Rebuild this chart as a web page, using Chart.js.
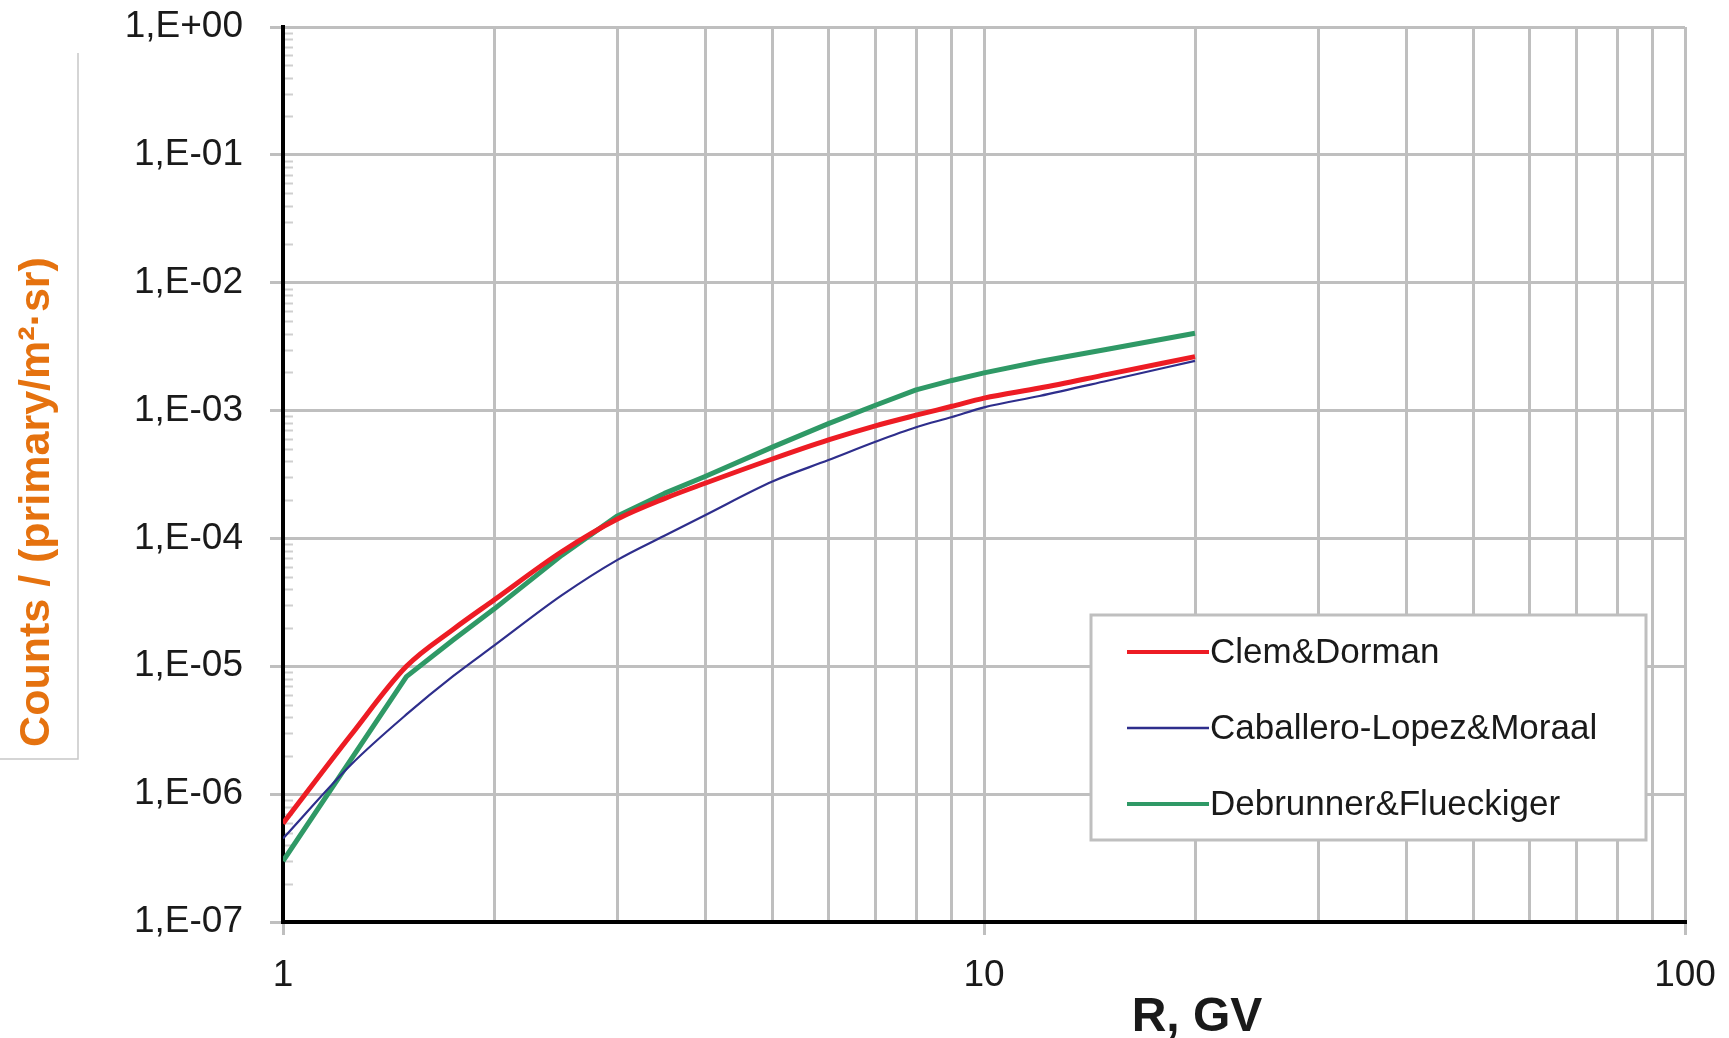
<!DOCTYPE html>
<html>
<head>
<meta charset="utf-8">
<script src="https://cdn.jsdelivr.net/npm/chart.js@4.4.1/dist/chart.umd.min.js"></script>
<style>
  html,body { margin:0; padding:0; background:#fff; }
  #wrap { width:1729px; height:1038px; }
</style>
</head>
<body>
<div id="wrap"><canvas id="chart" width="1729" height="1038"></canvas></div>
<script>
  // ── DATA ──────────────────────────────────────────────────────────────────
  const rValues      = [1, 1.25, 1.5, 1.75, 2, 2.5, 3, 3.5, 4, 5, 6, 7, 8, 9, 10, 12, 15, 20];
  const clemDorman   = [5.9e-7, 2.9e-6, 1.0e-5, 1.95e-5, 3.3e-5, 7.9e-5, 1.42e-4, 2.05e-4, 2.7e-4, 4.2e-4, 5.9e-4, 7.6e-4, 9.2e-4, 1.08e-3, 1.25e-3, 1.5e-3, 1.92e-3, 2.64e-3];
  const caballero    = [4.5e-7, 1.7e-6, 4.2e-6, 8.4e-6, 1.45e-5, 3.6e-5, 6.8e-5, 1.05e-4, 1.52e-4, 2.8e-4, 4.1e-4, 5.7e-4, 7.4e-4, 8.9e-4, 1.06e-3, 1.3e-3, 1.71e-3, 2.45e-3];
  const debrunner    = [3.0e-7, null, 8.3e-6, 1.61e-5, 2.8e-5, 7.4e-5, 1.5e-4, 2.25e-4, 3.05e-4, 5.2e-4, 7.9e-4, 1.1e-3, 1.45e-3, 1.72e-3, 1.97e-3, 2.42e-3, 3.02e-3, 4.03e-3];
  const seriesNames  = ['Clem&Dorman', 'Caballero-Lopez&Moraal', 'Debrunner&Flueckiger'];

  const yTickValues  = [1e-7, 1e-6, 1e-5, 1e-4, 1e-3, 1e-2, 1e-1, 1];
  const yTickLabels  = ['1,E-07', '1,E-06', '1,E-05', '1,E-04', '1,E-03', '1,E-02', '1,E-01', '1,E+00'];
  const xGridValues  = [1, 2, 3, 4, 5, 6, 7, 8, 9, 10, 20, 30, 40, 50, 60, 70, 80, 90, 100];
  const xTickValues  = [1, 10, 100];
  const xTickLabels  = ['1', '10', '100'];

  const xTitle = 'R, GV';
  const yTitle = 'Counts / (primary/m²·sr)';

  const COLORS = { red:'#ed1c24', blue:'#2e2e8c', green:'#2f9966', grid:'#bfbfbf', text:'#1a1a1a', orange:'#e5720f' };
  const FONT   = '"Liberation Sans", Arial, sans-serif';

  function pts(ys) { return rValues.map((r,i) => ({ x:r, y:ys[i] })); }

  // ── PLUGINS ───────────────────────────────────────────────────────────────
  const minorTicks = {
    id: 'minorTicks',
    beforeDatasetsDraw(chart) {
      const { ctx, scales:{ y }, chartArea } = chart;
      ctx.save();
      ctx.strokeStyle = '#cfcfcf';
      ctx.lineWidth = 2;
      for (let d = 0; d < yTickValues.length - 1; d++) {
        for (let k = 2; k <= 9; k++) {
          const py = Math.round(y.getPixelForValue(yTickValues[d] * k)) + 0.5;
          ctx.beginPath();
          ctx.moveTo(chartArea.left + 2, py);
          ctx.lineTo(chartArea.left + 10, py);
          ctx.stroke();
        }
      }
      ctx.restore();
    }
  };

  const legendBox = {
    id: 'legendBox',
    afterDatasetsDraw(chart) {
      const { ctx } = chart;
      const bx = 1091, by = 615, bw = 555, bh = 225;
      ctx.save();
      ctx.fillStyle = '#fff';
      ctx.fillRect(bx, by, bw, bh);
      ctx.strokeStyle = COLORS.grid;
      ctx.lineWidth = 3;
      ctx.strokeRect(bx, by, bw, bh);
      ctx.font = `35px ${FONT}`;
      ctx.textBaseline = 'middle';
      chart.data.datasets.forEach((ds, i) => {
        const ly = 652 + i * 76;
        ctx.strokeStyle = ds.borderColor;
        ctx.lineWidth = ds.legendWidth;
        ctx.beginPath();
        ctx.moveTo(1127, ly);
        ctx.lineTo(1209, ly);
        ctx.stroke();
        ctx.fillStyle = COLORS.text;
        ctx.fillText(ds.label, 1210, ly + 1);
      });
      ctx.restore();
    }
  };

  const titles = {
    id: 'titles',
    afterDraw(chart) {
      const { ctx } = chart;
      ctx.save();
      // box round the y title
      ctx.strokeStyle = '#c8c8c8';
      ctx.lineWidth = 1.5;
      ctx.beginPath();
      ctx.moveTo(78, 53);
      ctx.lineTo(78, 759);
      ctx.lineTo(0, 759);
      ctx.stroke();

      ctx.fillStyle = COLORS.orange;
      ctx.font = `bold 43px ${FONT}`;
      ctx.textAlign = 'center';
      ctx.textBaseline = 'middle';
      ctx.translate(37, 502);
      ctx.rotate(-Math.PI / 2);
      ctx.fillText(yTitle, 0, 0);
      ctx.restore();

      ctx.save();
      ctx.fillStyle = COLORS.text;
      ctx.font = `bold 48px ${FONT}`;
      ctx.textAlign = 'center';
      ctx.textBaseline = 'alphabetic';
      ctx.fillText(xTitle, 1197, 1031);
      ctx.restore();
    }
  };

  // ── CHART ─────────────────────────────────────────────────────────────────
  const ctx = document.getElementById('chart').getContext('2d');
  new Chart(ctx, {
    type: 'line',
    data: {
      datasets: [
        { label:seriesNames[0], data:pts(clemDorman), borderColor:COLORS.red,   borderWidth:5,   legendWidth:4,   cubicInterpolationMode:'monotone' },
        { label:seriesNames[1], data:pts(caballero),  borderColor:COLORS.blue,  borderWidth:2.2, legendWidth:2.5, cubicInterpolationMode:'monotone' },
        { label:seriesNames[2], data:pts(debrunner),  borderColor:COLORS.green, borderWidth:5,   legendWidth:4,   tension:0, spanGaps:true },
      ]
    },
    options: {
      responsive: false,
      animation: false,
      devicePixelRatio: 1,
      layout: { padding:{ top:27, right:44, bottom:0, left:0 } },
      elements: { point:{ radius:0 }, line:{ fill:false, borderCapStyle:'butt', borderJoinStyle:'round' } },
      plugins: { legend:{ display:false }, tooltip:{ enabled:false } },
      scales: {
        x: {
          type: 'logarithmic',
          min: 1, max: 100,
          afterBuildTicks: s => { s.ticks = xGridValues.map(v => ({ value:v })); },
          afterFit: s => { s.height = 116; s.paddingLeft = 0; s.paddingRight = 0; },
          grid: {
            color: COLORS.grid, lineWidth: 3, tickLength: 13,
            tickColor: c => xTickValues.includes(c.tick && c.tick.value) ? COLORS.grid : 'rgba(0,0,0,0)',
          },
          border: { color:'#000', width:4 },
          ticks: {
            autoSkip: false, maxRotation: 0, padding: 19,
            color: COLORS.text, font: { family:'"Liberation Sans", Arial, sans-serif', size:37 },
            callback: (v, i) => { const j = xTickValues.indexOf(xGridValues[i]); return j >= 0 ? xTickLabels[j] : ''; }
          }
        },
        y: {
          type: 'logarithmic',
          min: 1e-7, max: 1,
          afterBuildTicks: s => { s.ticks = yTickValues.map(v => ({ value:v })); },
          afterFit: s => { s.width = 283; s.paddingTop = 0; s.paddingBottom = 0; },
          grid: { color: COLORS.grid, lineWidth: 3, tickLength: 13, tickColor: COLORS.grid },
          border: { color:'#000', width:4 },
          ticks: {
            autoSkip: false, padding: 27,
            color: COLORS.text, font: { family:'"Liberation Sans", Arial, sans-serif', size:37 },
            callback: (v, i) => yTickLabels[i]
          }
        }
      }
    },
    plugins: [minorTicks, legendBox, titles]
  });
</script>
</body>
</html>
